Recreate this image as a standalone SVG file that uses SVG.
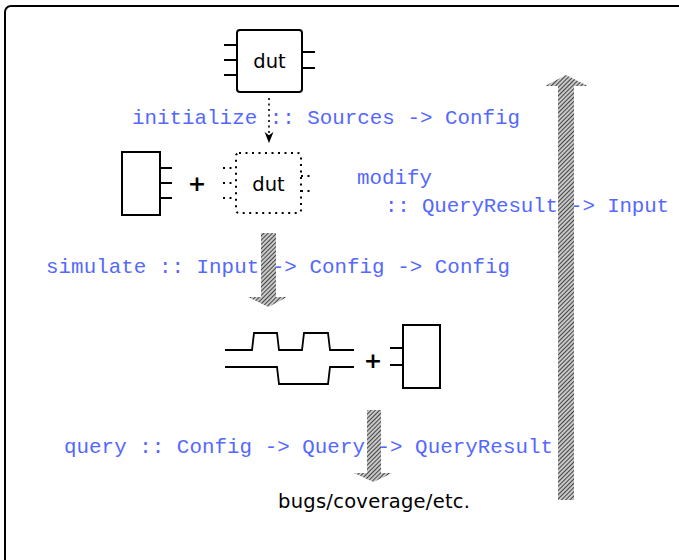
<svg xmlns="http://www.w3.org/2000/svg" width="679" height="560" viewBox="0 0 679 560">
  <defs>
    <pattern id="hatch" width="3" height="3" patternUnits="userSpaceOnUse" patternTransform="rotate(45)">
      <rect width="3" height="3" fill="#c8c8c8"/>
      <line x1="0" y1="0" x2="0" y2="3" stroke="#222" stroke-width="1.6"/>
    </pattern>
    <marker id="tip" viewBox="0 0 10 10" refX="9" refY="5" markerWidth="7" markerHeight="7" orient="auto">
      <path d="M0,1 L10,5 L0,9 L3,5 Z" fill="#000"/>
    </marker>
  </defs>
  <style>
    .box { fill: #fff; stroke: #000; stroke-width: 2; }
    .dbox { fill: none; stroke: #000; stroke-width: 2; stroke-dasharray: 2 4.5; }
    .pin { stroke: #000; stroke-width: 2; fill: none; }
    .dpin { stroke: #000; stroke-width: 2; fill: none; stroke-dasharray: 2 4.5; }
    .wave { stroke: #000; stroke-width: 1.8; fill: none; }
    .code { font-family: "Liberation Mono", "DejaVu Sans Mono", monospace; font-size: 20.8px; fill: #5468ff; }
    .sans { font-family: "DejaVu Sans", "Liberation Sans", sans-serif; font-size: 19.5px; fill: #000; }
    .plus { font-family: "DejaVu Sans", "Liberation Sans", sans-serif; font-size: 22px; font-weight: bold; fill: #000; }
    .fat { fill: url(#hatch); stroke: none; }
  </style>

  <!-- frame -->
  <rect x="5" y="6" width="700" height="580" rx="6" fill="none" stroke="#000" stroke-width="2"/>

  <!-- labels -->
  <g id="labels">
    <text class="code" x="132" y="124" textLength="388">initialize :: Sources -&gt; Config</text>
    <text class="code" x="357" y="184">modify</text>
    <text class="code" x="385" y="212" textLength="284">:: QueryResult -&gt; Input</text>
    <text class="code" x="46" y="273" textLength="464">simulate :: Input -&gt; Config -&gt; Config</text>
    <text class="code" x="64" y="453" textLength="489">query :: Config -&gt; Query -&gt; QueryResult</text>
  </g>

  <!-- design under test -->
  <g id="dut">
    <path class="pin" d="M224,45 H237 M224,60 H237 M224,75 H237 M302,52 H315 M302,68 H315"/>
    <rect class="box" x="237" y="30" width="65" height="62" rx="3"/>
    <text class="sans" x="269.5" y="68" text-anchor="middle">dut</text>
  </g>

  <!-- harness component -->
  <g id="harness">
    <path class="pin" d="M160,168 H172 M160,183 H172 M160,198 H172"/>
    <rect class="box" x="122" y="152" width="38" height="63"/>
  </g>

  <g id="plus1"><text class="plus" x="197" y="191" text-anchor="middle">+</text></g>

  <!-- configured dut -->
  <g id="dut-config">
    <path class="dpin" d="M223,168 H236 M223,183 H236 M223,198 H236 M301,176 H314 M301,191 H314"/>
    <rect class="dbox" x="236" y="153" width="65" height="60" rx="3"/>
    <text class="sans" x="268.5" y="191" text-anchor="middle">dut</text>
  </g>

  <!-- simulation waveforms -->
  <g id="waves">
    <path class="wave" d="M225,350 H252 L254,333 H277 L279,350 H302 L304,333 H328 L330,350 H354"/>
    <path class="wave" d="M225,367 H277 L279,384 H328 L330,367 H354"/>
  </g>

  <g id="plus2"><text class="plus" x="373" y="368" text-anchor="middle">+</text></g>

  <g id="monitor">
    <path class="pin" d="M390,348 H403 M390,365 H403"/>
    <rect class="box" x="403" y="325" width="37" height="63"/>
  </g>

  <g id="result">
    <text class="sans" x="278" y="508" textLength="192">bugs/coverage/etc.</text>
  </g>

  <!-- connectors -->
  <g id="connectors">
    <line x1="269" y1="98" x2="269" y2="142" stroke="#000" stroke-width="1.6" stroke-dasharray="2 3.5" marker-end="url(#tip)"/>
    <path class="fat" d="M261,233 H276 V297 H287 L268.5,307 L248,297 H261 Z"/>
    <path class="fat" d="M367,410 H381 V473 H392 L373.5,482 L354,473 H367 Z"/>
    <path class="fat" d="M558,500 V86 H545 L566,75 L588,86 H574 V500 Z"/>
  </g>
</svg>
